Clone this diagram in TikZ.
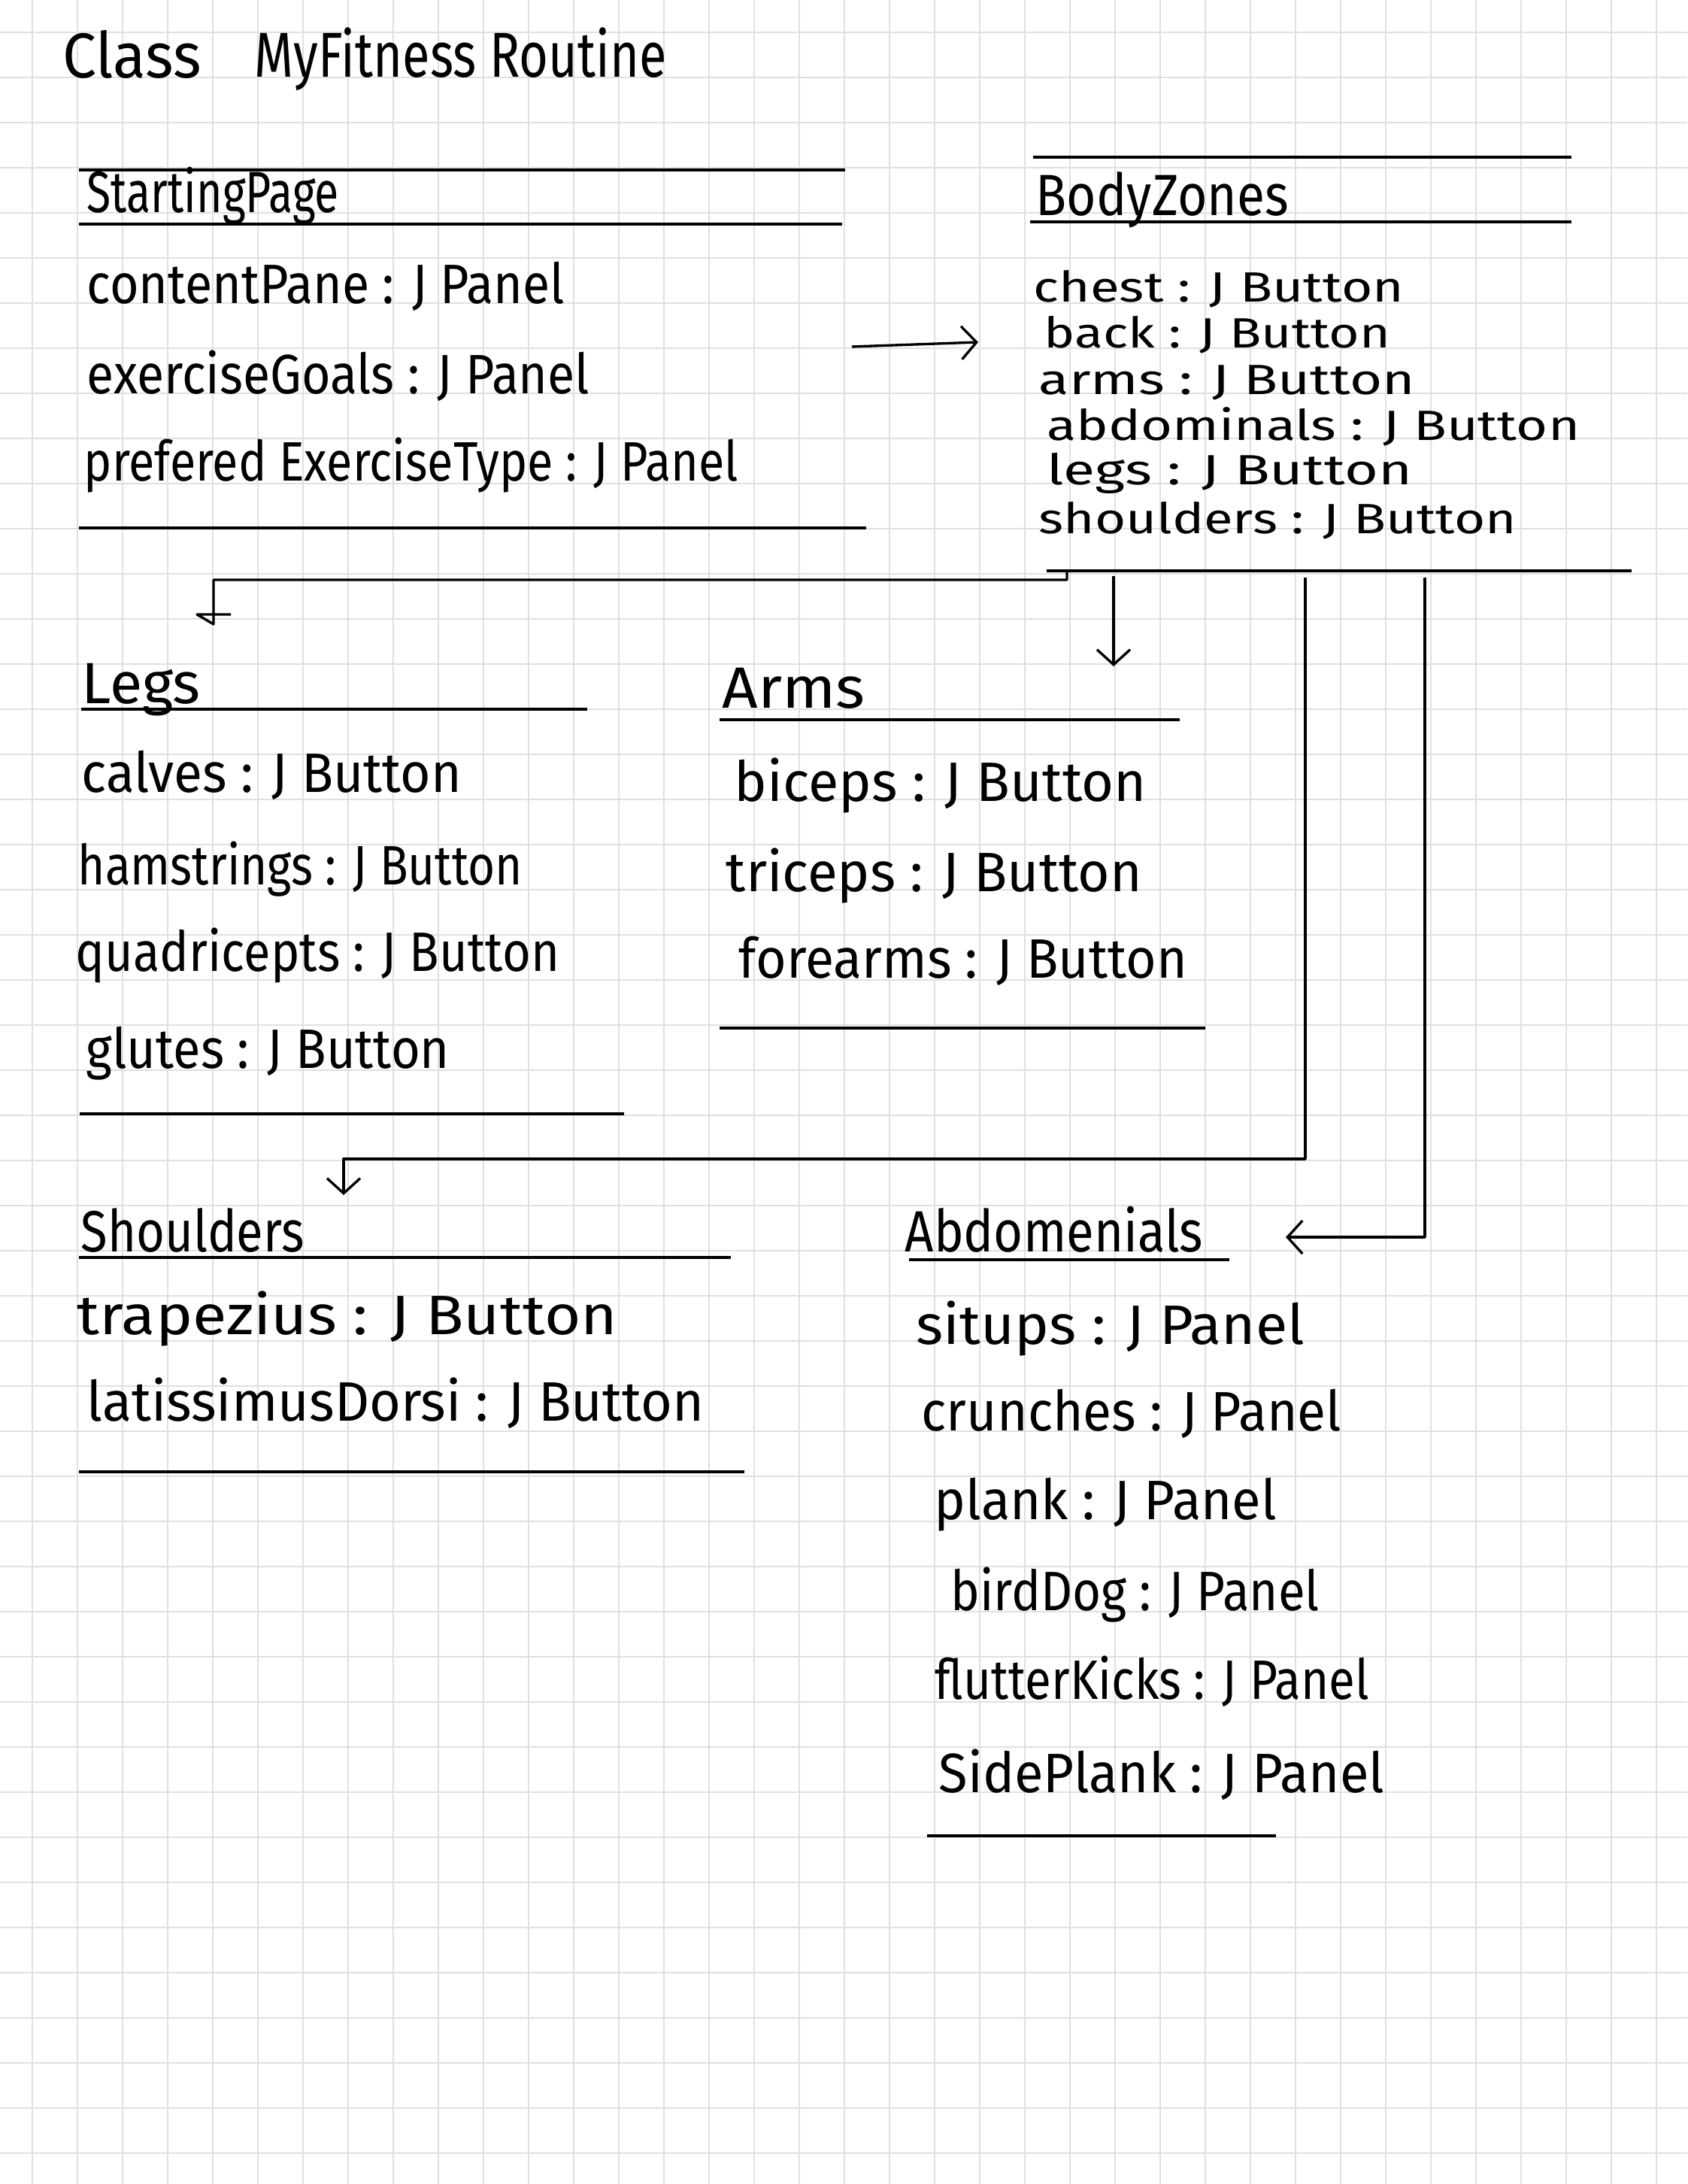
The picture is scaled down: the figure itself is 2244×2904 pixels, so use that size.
\documentclass[tikz,border=0pt]{standalone}
\usepackage{fontspec}
\setmainfont{Fira Sans}
\usepackage{graphicx}
\usetikzlibrary{arrows.meta}

% squeeze a handwritten line to the width it has on the page (in cm)
\newcommand{\hand}[2]{\resizebox{#1cm}{\height}{#2}}

\begin{document}
\begin{tikzpicture}[x=0.01cm, y=-0.01cm,
        gridline/.style={draw=black!12, line width=0.55pt},
        rule/.style={line width=1.1pt},
        link/.style={line width=0.95pt, line join=round},
        opentip/.style={-{Straight Barb[length=2mm,width=4.4mm]}},
        entry/.style={anchor=base west, inner sep=0pt, font=\fontsize{21}{25}\selectfont},
        smallentry/.style={entry, font=\fontsize{16}{19}\selectfont},
        heading/.style={entry, font=\fontsize{22}{26}\selectfont},
        titletext/.style={entry, font=\fontsize{24}{28}\selectfont}]

    % paper
    \fill[white] (0,0) rectangle (2244,2904);
    \useasboundingbox (0,0) rectangle (2244,2904);
    \foreach \gx in {43,103,...,2203} \draw[gridline] (\gx,0) -- (\gx,2904);
    \foreach \gy in {43,103,...,2863} \draw[gridline] (0,\gy) -- (2244,\gy);

    % title
    \node[titletext] (cls) at (83,104) {\hand{1.84}{Class}};
    \node[titletext] (clsname) at (338,103) {\hand{5.48}{MyFitness Routine}};

    % StartingPage
    \draw[rule] (105,226) -- (1124,226);
    \node[heading] (sp) at (115,283) {\hand{3.35}{StartingPage}};
    \draw[rule] (105,298) -- (1120,298);
    \node[entry] (sp-pane) at (115,404) {\hand{6.35}{contentPane : J Panel}};
    \node[entry] (sp-goals) at (115,524) {\hand{6.68}{exerciseGoals : J Panel}};
    \node[entry] (sp-type) at (111,640) {\hand{8.70}{prefered ExerciseType : J Panel}};
    \draw[rule] (105,702) -- (1152,702);

    % BodyZones
    \draw[rule] (1374,209) -- (2090,209);
    \node[heading] (bz) at (1377,287) {\hand{3.36}{BodyZones}};
    \draw[rule] (1370,295) -- (2090,295);
    \node[smallentry] (bz-chest) at (1374,402) {\hand{4.92}{chest : J Button}};
    \node[smallentry] (bz-back) at (1388,463) {\hand{4.60}{back : J Button}};
    \node[smallentry] (bz-arms) at (1381,525) {\hand{5.00}{arms : J Button}};
    \node[smallentry] (bz-abs) at (1392,586) {\hand{7.08}{abdominals : J Button}};
    \node[smallentry] (bz-legs) at (1392,645) {\hand{4.85}{legs : J Button}};
    \node[smallentry] (bz-sh) at (1381,709) {\hand{6.35}{shoulders : J Button}};
    \draw[rule] (1392,759) -- (2170,759);

    % Legs
    \node[heading] (legs) at (108,935) {\hand{1.58}{Legs}};
    \draw[rule] (108,943) -- (781,943);
    \node[entry] (legs-calves) at (108,1053) {\hand{5.05}{calves : J Button}};
    \node[entry] (legs-ham) at (103,1176) {\hand{5.91}{hamstrings : J Button}};
    \node[entry] (legs-quad) at (100,1291) {\hand{6.43}{quadricepts : J Button}};
    \node[entry] (legs-glutes) at (114,1420) {\hand{4.83}{glutes : J Button}};
    \draw[rule] (106,1481) -- (830,1481);

    % Arms
    \node[heading] (arms) at (960,941) {\hand{1.90}{Arms}};
    \draw[rule] (957,957) -- (1569,957);
    \node[entry] (arms-bi) at (976,1065) {\hand{5.48}{biceps : J Button}};
    \node[entry] (arms-tri) at (965,1185) {\hand{5.53}{triceps : J Button}};
    \node[entry] (arms-fore) at (982,1300) {\hand{5.96}{forearms : J Button}};
    \draw[rule] (957,1367) -- (1603,1367);

    % Shoulders
    \node[heading] (sh) at (107,1664) {\hand{2.97}{Shoulders}};
    \draw[rule] (105,1672) -- (972,1672);
    \node[entry] (sh-trap) at (102,1774) {\hand{7.18}{trapezius : J Button}};
    \node[entry] (sh-lat) at (115,1889) {\hand{8.20}{latissimusDorsi : J Button}};
    \draw[rule] (105,1957) -- (990,1957);

    % Abdomenials
    \node[heading] (ab) at (1203,1664) {\hand{3.96}{Abdomenials}};
    \draw[rule] (1209,1675) -- (1635,1675);
    \node[entry] (ab-sit) at (1218,1787) {\hand{5.16}{situps : J Panel}};
    \node[entry] (ab-crunch) at (1225,1902) {\hand{5.58}{crunches : J Panel}};
    \node[entry] (ab-plank) at (1242,2020) {\hand{4.55}{plank : J Panel}};
    \node[entry] (ab-dog) at (1264,2141) {\hand{4.90}{birdDog : J Panel}};
    \node[entry] (ab-kick) at (1243,2259) {\hand{5.77}{flutterKicks : J Panel}};
    \node[entry] (ab-side) at (1248,2383) {\hand{5.92}{SidePlank : J Panel}};
    \draw[rule] (1233,2441) -- (1697,2441);

    % connectors
    \coordinate (sp-out) at (1133,461);
    \coordinate (bz-in) at (1301,455);
    \coordinate (bz-to-legs) at (1419,759);
    \coordinate (legs-in) at (284,830);
    \coordinate (bz-to-arms) at (1481,766);
    \coordinate (arms-in) at (1481,886);
    \coordinate (bz-to-sh) at (1736,768);
    \coordinate (sh-in) at (457,1589);
    \coordinate (bz-to-ab) at (1895,768);
    \coordinate (ab-in) at (1710,1645);

    \draw[link, opentip] (sp-out) -- (bz-in);
    \draw[link] (bz-to-legs) -- ++(0,12) -| (legs-in) -- ++(-22,-13) -- ++(45,0);
    \draw[link, opentip] (bz-to-arms) -- (arms-in);
    \draw[link, opentip] (bz-to-sh) -- ++(0,773) -| (sh-in);
    \draw[link, opentip] (bz-to-ab) |- (ab-in);
\end{tikzpicture}
\end{document}
